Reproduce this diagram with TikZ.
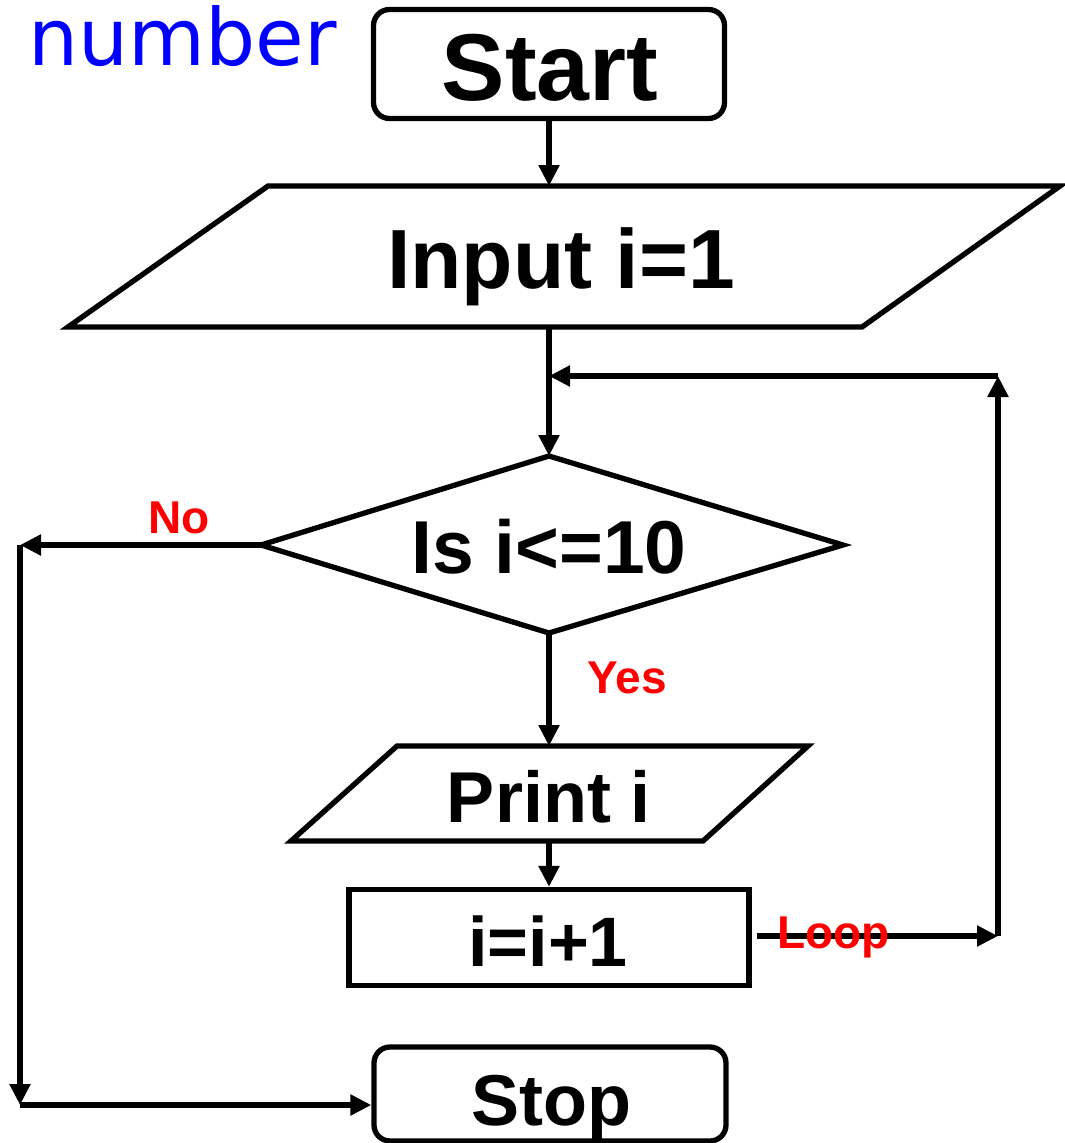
\documentclass[tikz,border=0pt]{standalone}
\usepackage{fontspec}
\setmainfont{Liberation Sans}
\newfontfamily\numfont{DejaVu Sans}
\usetikzlibrary{arrows.meta}
\definecolor{numblue}{RGB}{0,0,255}
\definecolor{lblred}{RGB}{255,0,0}
\begin{document}
\begin{tikzpicture}[x=1pt,y=-1pt,
  line width=5.3pt,
  flow/.style={-{Triangle[length=21pt,width=20pt]}},
  shapeline/.style={line width=5.3pt, line join=miter},
  lbl/.style={anchor=base, inner sep=0pt, font=\bfseries\fontsize{#1}{#1}\selectfont},
  redlbl/.style={inner sep=0pt, text=lblred, font=\bfseries\fontsize{46}{46}\selectfont},
  term/.style={draw, rounded corners=16pt, line width=5.3pt, inner sep=0pt},
  proc/.style={draw, line width=5.3pt, inner sep=0pt},
]
\useasboundingbox (0,0) rectangle (1065,1143);

% title
\node[anchor=base west, inner sep=0pt, text=numblue, font=\numfont\fontsize{79}{79}\selectfont] (num) at (26,65) {number};

% Start
\node[term, minimum width=351pt, minimum height=109pt] (start) at (549,64) {};
\node[lbl=95] (startT) at (550,100) {Start};

% Input parallelogram
\coordinate (inTL) at (268,186);
\coordinate (inTR) at (1060,186);
\coordinate (inBR) at (862,327);
\coordinate (inBL) at (68,327);
\draw[shapeline] (inTL) -- (inTR) -- (inBR) -- (inBL) -- cycle;
\coordinate (inTop) at (549,186);
\coordinate (inBot) at (549,327);
\node[lbl=84] (inT) at (561,288) {Input i=1};

% Decision diamond
\coordinate (dT) at (549,456);
\coordinate (dR) at (843,545);
\coordinate (dB) at (549,633);
\coordinate (dL) at (261,545);
\draw[shapeline] (dT) -- (dR) -- (dB) -- (dL) -- cycle;
\node[lbl=75] (dText) at (549,573) {Is i<=10};

% Print parallelogram
\coordinate (pTL) at (397,746);
\coordinate (pTR) at (808,746);
\coordinate (pBR) at (703,841);
\coordinate (pBL) at (291,841);
\draw[shapeline] (pTL) -- (pTR) -- (pBR) -- (pBL) -- cycle;
\coordinate (pTop) at (549,746);
\coordinate (pBot) at (549,841);
\node[lbl=72] (pText) at (549,822) {Print i};

% increment box
\node[proc, minimum width=400pt, minimum height=96pt] (inc) at (549,937.5) {};
\node[lbl=70] (incT) at (548,966) {i=i+1};

% Stop
\node[term, minimum width=352pt, minimum height=94pt] (stop) at (550,1094) {};
\node[lbl=72] (stopT) at (551,1125) {Stop};

% helper coordinates
\coordinate (loopR) at (998,936);
\coordinate (loopTop) at (998,376);
\coordinate (join) at (549,376);
\coordinate (noL) at (20,545);
\coordinate (noB) at (20,1105);

% connectors
\draw[flow] (start.south -| inTop) -- (inTop);
\draw[flow] (inBot) -- (dT);
\draw[flow] (dB) -- (pTop);
\draw[flow] (pBot) -- (pBot |- inc.north);
\draw[flow, shorten <=5pt] (inc.east |- loopR) -- (loopR);
\draw[flow] (loopR) -- (loopTop);
\draw[flow] (loopTop) -- (join);
\draw[flow] (dL) -- (noL);
\draw[flow] (noL) -- (noB);
\draw[flow] (noB) -- (noB -| stop.west);

% branch labels
\node[redlbl, anchor=base] (noT) at (179,533) {No};
\node[redlbl, anchor=base] (yesT) at (627,693) {Yes};
\node[redlbl, anchor=base west] (loopT) at (775,948) {Loop};
\end{tikzpicture}
\end{document}
